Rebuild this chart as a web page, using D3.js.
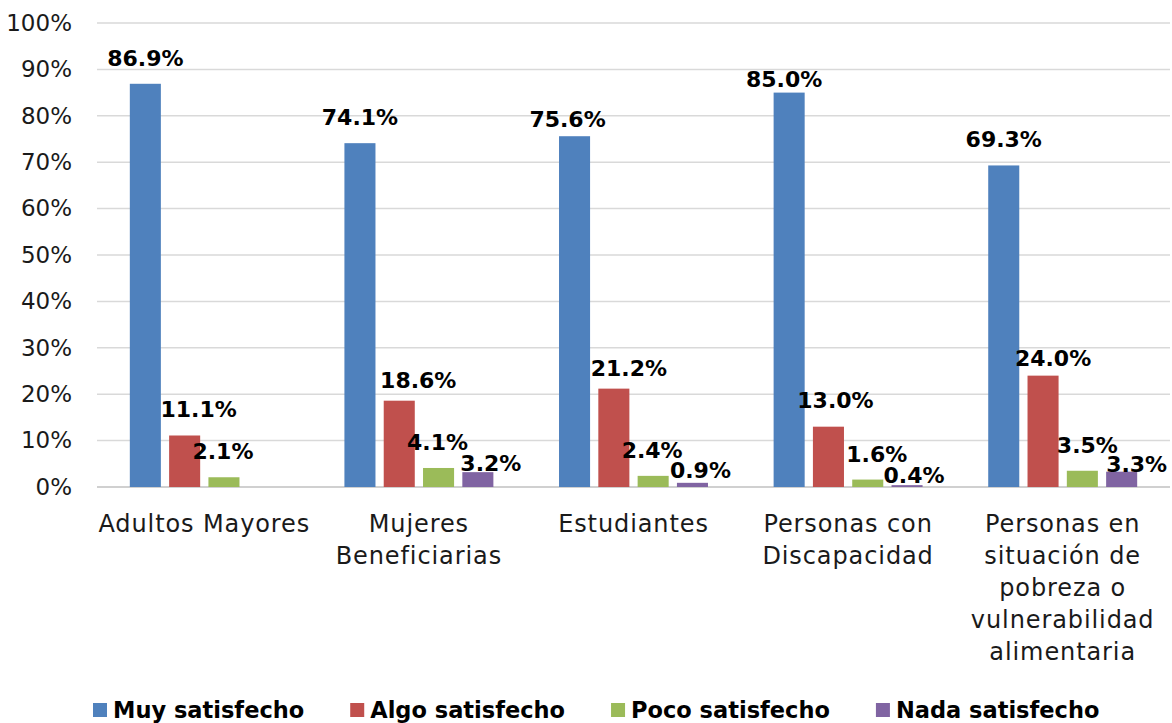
<!DOCTYPE html>
<html>
<head>
<meta charset="utf-8">
<script src="https://cdn.jsdelivr.net/npm/d3@7"></script>
<style>
  body { margin: 0; background: #fff; }
  svg { display: block; }
</style>
</head>
<body>
<div id="chart"></div>
<script>
// chart data
var categories = ["Adultos Mayores", "Mujeres Beneficiarias", "Estudiantes",
    "Personas con Discapacidad", "Personas en situación de pobreza o vulnerabilidad alimentaria"];
var seriesNames = ["Muy satisfecho", "Algo satisfecho", "Poco satisfecho", "Nada satisfecho"];
var muy  = [86.9, 74.1, 75.6, 85.0, 69.3];
var algo = [11.1, 18.6, 21.2, 13.0, 24.0];
var poco = [2.1, 4.1, 2.4, 1.6, 3.5];
var nada = [null, 3.2, 0.9, 0.4, 3.3];
var yTicks = [0, 10, 20, 30, 40, 50, 60, 70, 80, 90, 100];

var values = [muy, algo, poco, nada];
var colors = ["#4f81bd", "#c0504d", "#9bbb59", "#8064a2"];

// hand moved labels in the original, [dx, dy] per series / category
var labelNudge = [
    [[0, 0], [0, 0], [-7, 9], [-5, 12], [0, 0]],
    [[14, 0], [19, 5], [15, 5], [7, -1], [10, 8]],
    [[-1, 0], [-1, 0], [-1, 0], [9, 0], [5, 0]],
    [[0, 0], [13, 17], [8, 13], [7, 16], [15, 18]]
];

var width = 1172, height = 723;
var plotLeft = 97, plotRight = 1170, plotTop = 23, plotBottom = 487;

var svg = d3.select("#chart").append("svg")
    .attr("width", width)
    .attr("height", height);

var x0 = d3.scaleBand()
    .domain(categories)
    .range([plotLeft, plotRight]);

var x1 = d3.scaleBand()
    .domain(seriesNames)
    .range([0, x0.bandwidth()])
    .paddingInner(0.21)
    .paddingOuter(0.835);

var y = d3.scaleLinear()
    .domain([0, 100])
    .range([plotBottom, plotTop]);

// gridlines
svg.append("g")
    .selectAll("line")
    .data(yTicks)
    .enter().append("line")
    .attr("x1", plotLeft)
    .attr("x2", plotRight)
    .attr("y1", function(d) { return y(d); })
    .attr("y2", function(d) { return y(d); })
    .style("stroke", function(d) { return d == 0 ? "#d0d0d0" : "#d9d9d9"; })
    .style("stroke-width", function(d) { return d == 0 ? 2 : 1.5; });

// y axis labels
var yAxis = d3.axisLeft(y)
    .tickValues(yTicks)
    .tickSize(0)
    .tickPadding(0)
    .tickFormat(function(d) { return d + "%"; });

var ya = svg.append("g")
    .attr("transform", "translate(72,0)")
    .call(yAxis);
ya.select(".domain").remove();
ya.selectAll("text")
    .style("font-family", "'DejaVu Sans', sans-serif")
    .style("font-size", "23px")
    .style("fill", "#1a1a1a");

// bars
var groups = svg.append("g")
    .selectAll("g")
    .data(values)
    .enter().append("g")
    .style("fill", function(d, i) { return colors[i]; });

groups.each(function(vals, si) {
    var g = d3.select(this);
    var pts = vals.map(function(v, ci) { return {v: v, c: categories[ci], ci: ci}; })
        .filter(function(p) { return p.v != null; });

    g.selectAll("rect")
        .data(pts)
        .enter().append("rect")
        .attr("x", function(p) { return x0(p.c) + x1(seriesNames[si]); })
        .attr("width", x1.bandwidth())
        .attr("y", function(p) { return y(p.v); })
        .attr("height", function(p) { return y(0) - y(p.v); });

    g.selectAll("text")
        .data(pts)
        .enter().append("text")
        .attr("x", function(p) {
            return x0(p.c) + x1(seriesNames[si]) + x1.bandwidth() / 2 + labelNudge[si][p.ci][0];
        })
        .attr("y", function(p) { return y(p.v) - 18 + labelNudge[si][p.ci][1]; })
        .attr("text-anchor", "middle")
        .style("font-family", "'DejaVu Sans', sans-serif")
        .style("font-weight", "bold")
        .style("font-size", "22px")
        .style("fill", "#000")
        .text(function(p) { return p.v.toFixed(1) + "%"; });
});

// category labels, wrapped to the band width
var cat = svg.append("g")
    .selectAll("text")
    .data(categories)
    .enter().append("text")
    .attr("x", function(d) { return x0(d) + x0.bandwidth() / 2; })
    .attr("y", 532)
    .attr("text-anchor", "middle")
    .style("font-family", "'DejaVu Sans', sans-serif")
    .style("font-size", "24px")
    .style("letter-spacing", "0.9px")
    .style("fill", "#1a1a1a");

cat.each(function(d) {
    var t = d3.select(this);
    var words = d.split(" ");
    var line = [];
    var tspan = t.append("tspan").attr("x", t.attr("x")).attr("dy", 0);
    words.forEach(function(w) {
        line.push(w);
        tspan.text(line.join(" "));
        if (tspan.node().getComputedTextLength() > 225 && line.length > 1) {
            line.pop();
            tspan.text(line.join(" "));
            line = [w];
            tspan = t.append("tspan").attr("x", t.attr("x")).attr("dy", 32).text(w);
        }
    });
});

// legend
var legend = svg.append("g").attr("transform", "translate(0,703)");
var lx = 93;
seriesNames.forEach(function(name, i) {
    legend.append("rect")
        .attr("x", lx)
        .attr("y", 0)
        .attr("width", 14)
        .attr("height", 14)
        .style("fill", colors[i]);
    var t = legend.append("text")
        .attr("x", lx + 20)
        .attr("y", 15)
        .style("font-family", "'DejaVu Sans', sans-serif")
        .style("font-weight", "bold")
        .style("font-size", "22.5px")
        .style("fill", "#000")
        .text(name);
    lx += 20 + t.node().getComputedTextLength() + 46;
});
</script>
</body>
</html>
